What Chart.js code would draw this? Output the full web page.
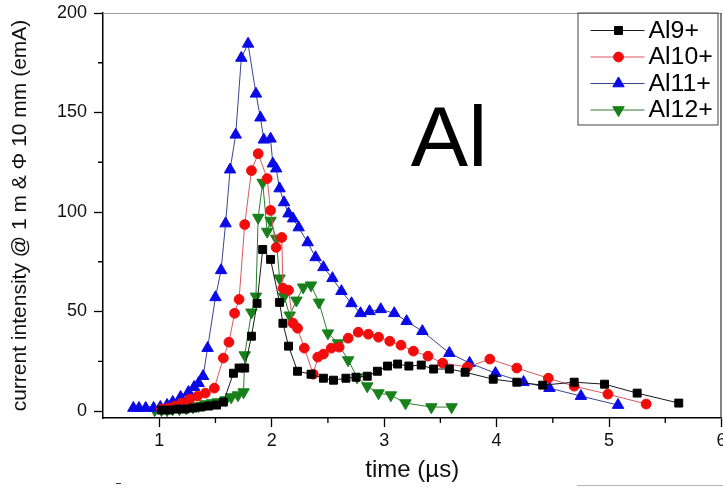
<!DOCTYPE html>
<html>
<head>
<meta charset="utf-8">
<script src="https://cdn.jsdelivr.net/npm/chart.js@4.4.0/dist/chart.umd.min.js"></script>
<style>
  html, body { margin: 0; padding: 0; background: #fff; }
  #wrap { width: 723px; height: 490px; }
</style>
</head>
<body>
<div id="wrap"><canvas id="c" width="723" height="490"></canvas></div>
<script>
// Time of flight (µs) and ion current (emA) for each aluminium charge state
const timeAl9 = [1.02,1.09,1.16,1.23,1.30,1.37,1.44,1.51,1.57,1.66,1.71,1.76,1.82,1.87,1.92,1.99,2.07,2.10,2.15,2.23,2.35,2.46,2.55,2.66,2.75,2.85,2.94,3.03,3.12,3.22,3.33,3.44,3.58,3.72,3.97,4.18,4.41,4.69,4.96,5.25,5.62];
const currentAl9 = [0.5,0.5,1.0,1.0,1.5,2.0,2.5,3.0,4.5,19.0,21.6,21.6,37.6,54.1,81.2,76.2,54.6,44.1,32.6,20.0,18.5,16.5,15.5,16.5,17.0,17.5,20.0,22.6,23.6,22.6,23.1,21.1,21.1,19.5,16.0,14.5,13.0,14.5,13.5,9.0,4.0];

const timeAl10 = [1.02,1.08,1.14,1.20,1.27,1.34,1.41,1.49,1.57,1.62,1.67,1.71,1.76,1.82,1.88,1.96,1.99,2.04,2.09,2.10,2.15,2.19,2.23,2.29,2.37,2.41,2.46,2.53,2.60,2.68,2.77,2.86,2.95,3.05,3.15,3.26,3.39,3.52,3.74,3.94,4.18,4.46,4.69,4.99,5.33];
const currentAl10 = [1.0,1.5,2.5,4.0,6.0,7.5,9.0,11.5,26.6,34.6,49.1,56.1,93.7,120.8,129.3,116.8,100.8,82.2,87.2,61.7,60.7,44.1,41.6,31.6,18.5,27.1,28.6,31.6,32.1,36.6,39.6,38.6,37.1,35.1,33.1,30.1,27.6,24.1,22.1,26.1,21.6,16.5,12.5,8.5,3.5];

const timeAl11 = [0.77,0.82,0.88,0.95,1.01,1.07,1.12,1.19,1.26,1.31,1.35,1.39,1.43,1.50,1.55,1.59,1.63,1.68,1.73,1.79,1.86,1.90,1.93,1.99,2.01,2.04,2.07,2.11,2.15,2.19,2.24,2.32,2.39,2.46,2.54,2.62,2.71,2.79,2.87,2.97,3.09,3.20,3.34,3.58,3.76,3.99,4.24,4.47,4.75,5.08];
const currentAl11 = [1.5,1.5,1.5,1.5,2.0,3.0,4.5,7.0,9.5,12.0,14.0,17.5,31.6,57.1,70.7,94.2,121.3,138.8,177.4,184.5,159.4,147.4,136.3,136.8,124.3,121.8,111.8,104.8,99.2,96.7,92.2,84.7,77.2,72.2,66.7,60.2,54.1,49.1,50.1,51.1,49.1,45.1,40.1,29.1,24.1,19.0,14.5,11.5,7.5,3.0];

const timeAl12 = [0.96,1.02,1.07,1.12,1.18,1.24,1.30,1.35,1.41,1.47,1.52,1.59,1.64,1.70,1.75,1.76,1.82,1.86,1.88,1.92,1.96,1.99,2.04,2.07,2.11,2.16,2.22,2.28,2.35,2.42,2.50,2.59,2.68,2.76,2.85,2.95,3.06,3.19,3.42,3.60];
const currentAl12 = [0.5,0.5,0.5,1.0,1.0,1.5,2.0,2.5,3.5,4.0,4.5,5.5,7.0,8.0,9.5,28.1,49.6,57.6,97.2,114.8,90.2,95.7,86.7,66.7,57.6,48.1,55.6,62.2,63.2,54.6,39.1,34.1,25.6,17.0,12.5,9.0,8.0,4.0,2.0,2.0];

const seriesNames = ['Al9+', 'Al10+', 'Al11+', 'Al12+'];
const xTickValues = [1, 2, 3, 4, 5, 6];
const xMinorTicks = [1.5, 2.5, 3.5, 4.5, 5.5];
const yTickValues = [0, 50, 100, 150, 200];
const yMinorTicks = [25, 75, 125, 175];

const FONT = "'Liberation Sans', Arial, sans-serif";

function toPoints(xs, ys) {
  return xs.map((x, i) => ({ x: x, y: ys[i] }));
}

const styles = [
  { line: '#1a1a1a', fill: '#000000', pointStyle: 'rect',     rotation: 0,   radius: 5.6 },
  { line: '#d9595e', fill: '#f20d0d', pointStyle: 'circle',   rotation: 0,   radius: 4.9 },
  { line: '#3a4590', fill: '#0a0ae6', pointStyle: 'triangle', rotation: 0,   radius: 6.6 },
  { line: '#2f7a2f', fill: '#17801a', pointStyle: 'triangle', rotation: 180, radius: 6.6 }
];
const seriesData = [
  toPoints(timeAl9, currentAl9),
  toPoints(timeAl10, currentAl10),
  toPoints(timeAl11, currentAl11),
  toPoints(timeAl12, currentAl12)
];

const datasets = seriesNames.map((name, i) => ({
  label: name,
  data: seriesData[i],
  showLine: true,
  tension: 0,
  borderColor: styles[i].line,
  borderWidth: 1,
  pointStyle: styles[i].pointStyle,
  pointRotation: styles[i].rotation,
  pointRadius: styles[i].radius,
  pointHoverRadius: styles[i].radius,
  pointBackgroundColor: styles[i].fill,
  pointBorderColor: styles[i].fill,
  pointBorderWidth: 1
}));

// Frame, minor ticks, legend box and the element label
const decorations = {
  id: 'decorations',
  beforeDraw(chart) {
    const ctx = chart.ctx;
    ctx.save();
    ctx.fillStyle = '#ffffff';
    ctx.fillRect(0, 0, chart.width, chart.height);
    ctx.restore();
  },
  afterDraw(chart) {
    const ctx = chart.ctx;
    const area = chart.chartArea;
    const xs = chart.scales.x, ys = chart.scales.y;
    ctx.save();

    // top and right frame lines
    ctx.strokeStyle = '#9a9a9a';
    ctx.lineWidth = 1.2;
    ctx.beginPath();
    ctx.moveTo(area.left, area.top + 0.5);
    ctx.lineTo(area.right, area.top + 0.5);
    ctx.stroke();
    ctx.strokeStyle = '#333';
    ctx.beginPath();
    ctx.moveTo(area.right - 0.5, area.top);
    ctx.lineTo(area.right - 0.5, area.bottom);
    ctx.stroke();

    // minor ticks
    ctx.strokeStyle = '#000';
    ctx.lineWidth = 1.3;
    ctx.beginPath();
    xMinorTicks.forEach(v => {
      const px = xs.getPixelForValue(v);
      ctx.moveTo(px, area.bottom);
      ctx.lineTo(px, area.bottom + 5);
    });
    yMinorTicks.forEach(v => {
      const py = ys.getPixelForValue(v);
      ctx.moveTo(area.left, py);
      ctx.lineTo(area.left - 5, py);
    });
    ctx.stroke();

    // legend
    const lx = area.right - 144, ly = area.top - 0.5, lw = 140, lh = 112;
    ctx.strokeStyle = '#444';
    ctx.lineWidth = 1;
    ctx.strokeRect(lx + 0.5, ly + 0.5, lw, lh);
    chart.data.datasets.forEach((ds, i) => {
      const cy = ly + 18 + i * 26.5;
      ctx.strokeStyle = ds.borderColor;
      ctx.lineWidth = 1;
      ctx.beginPath();
      ctx.moveTo(lx + 13, cy);
      ctx.lineTo(lx + 67, cy);
      ctx.stroke();
      ctx.fillStyle = ds.pointBackgroundColor;
      ctx.strokeStyle = ds.pointBorderColor;
      Chart.helpers.drawPoint(ctx, {
        pointStyle: ds.pointStyle,
        rotation: ds.pointRotation,
        radius: ds.pointRadius,
        borderWidth: 1
      }, lx + 41, cy);
      ctx.save();
      ctx.translate(lx + 71, cy + 1);
      ctx.scale(1.08, 1);
      ctx.fillStyle = '#000';
      ctx.font = '23px ' + FONT;
      ctx.textBaseline = 'middle';
      ctx.textAlign = 'left';
      ctx.fillText(ds.label, 0, 0);
      ctx.restore();
    });

    // element label
    ctx.fillStyle = '#000';
    ctx.font = '86px ' + FONT;
    ctx.textAlign = 'center';
    ctx.textBaseline = 'alphabetic';
    ctx.fillText('Al', 449, 166);

    // page edge remnants below the plot
    ctx.strokeStyle = '#b5b5b5';
    ctx.lineWidth = 1;
    ctx.beginPath();
    ctx.moveTo(577, 485.5);
    ctx.lineTo(723, 485.5);
    ctx.stroke();
    ctx.strokeStyle = '#333';
    ctx.beginPath();
    ctx.moveTo(116, 483.5);
    ctx.lineTo(121, 483.5);
    ctx.stroke();

    ctx.restore();
  }
};

new Chart(document.getElementById('c'), {
  type: 'scatter',
  data: { datasets: datasets },
  options: {
    responsive: false,
    animation: false,
    devicePixelRatio: 1,
    layout: { autoPadding: false, padding: { top: 13, right: 1.5, bottom: 0, left: 0 } },
    plugins: {
      legend: { display: false },
      tooltip: { enabled: false }
    },
    scales: {
      x: {
        type: 'linear',
        min: 0.5,
        max: 6,
        afterBuildTicks: s => { s.ticks = xTickValues.map(v => ({ value: v })); },
        afterFit: s => { s.height = 72; s.paddingLeft = 0; s.paddingRight = 0; },
        ticks: {
          color: '#111',
          font: { family: FONT, size: 18 },
          padding: 3,
          maxRotation: 0,
          autoSkip: false
        },
        grid: {
          drawOnChartArea: false,
          drawTicks: true,
          tickLength: 9,
          tickWidth: 1.3,
          tickColor: '#000'
        },
        border: { display: true, color: '#000', width: 1.5 },
        title: {
          display: true,
          text: 'time (µs)',
          color: '#111',
          font: { family: FONT, size: 24 },
          padding: { top: 0, bottom: 5 }
        }
      },
      y: {
        type: 'linear',
        min: -3.5,
        max: 200,
        afterBuildTicks: s => { s.ticks = yTickValues.map(v => ({ value: v })); },
        afterFit: s => { s.width = 103; s.paddingTop = 0; s.paddingBottom = 0; },
        ticks: {
          color: '#111',
          font: { family: FONT, size: 18 },
          padding: 7
        },
        grid: {
          drawOnChartArea: false,
          drawTicks: true,
          tickLength: 9,
          tickWidth: 1.3,
          tickColor: '#000'
        },
        border: { display: true, color: '#000', width: 1.5 },
        title: {
          display: true,
          text: 'current intensity @ 1 m & Φ 10 mm (emA)',
          color: '#111',
          font: { family: FONT, size: 21 },
          padding: { top: 8, bottom: 0 }
        }
      }
    }
  },
  plugins: [decorations]
});
</script>
</body>
</html>
